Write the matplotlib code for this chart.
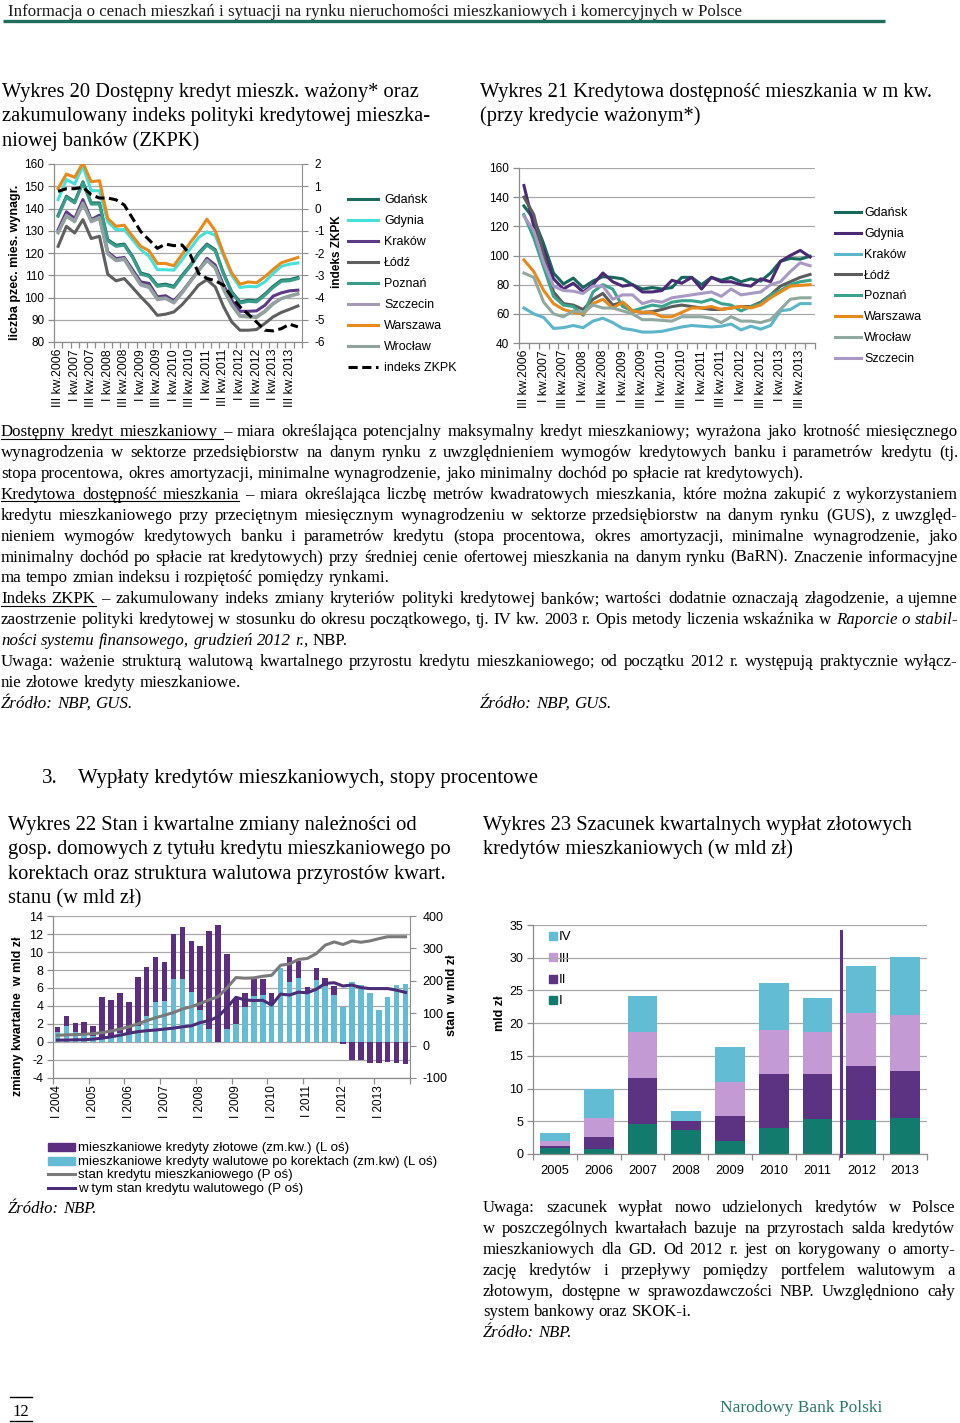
import numpy as np
import matplotlib
matplotlib.use('Agg')
import matplotlib.pyplot as plt
from matplotlib.patches import Rectangle

W, H = 960, 1423
SANS = ['Liberation Sans', 'DejaVu Sans']
SERIF = ['Liberation Serif', 'DejaVu Serif']
plt.rcParams['font.family'] = SANS
plt.rcParams['axes.unicode_minus'] = False

# ---------------- Chart 20 data ----------------
q20_ticks = ['III kw.2006', 'I kw.2007', 'III kw.2007', 'I kw.2008', 'III kw.2008',
             'I kw.2009', 'III kw.2009', 'I kw.2010', 'III kw.2010', 'I kw.2011',
             'III kw.2011', 'I kw.2012', 'III kw.2012', 'I kw.2013', 'III kw.2013']
c20_cities = ['Gdańsk', 'Gdynia', 'Kraków', 'Łódź', 'Poznań', 'Szczecin', 'Warszawa', 'Wrocław']
gdansk20 = [137, 145.5, 143, 152, 142.5, 142.5, 126, 123.5, 124, 118.5, 111, 110, 105.5, 106, 105,
            110, 114.5, 120, 124, 121.5, 111, 102.5, 98, 98.8, 98.5, 101.5, 105, 107.8, 108, 109]
gdynia20 = [144, 153, 151, 159, 148, 148, 134, 130.5, 130.5, 126, 121.5, 118.5, 112.5, 112.5, 112.3,
            117, 122, 127, 129.5, 128, 119, 110, 104.5, 105, 104.8, 107, 110.8, 114, 115, 115.5]
krakow20 = [130.5, 138.5, 135.5, 144, 135, 137, 120.5, 117.5, 118, 112.5, 107, 106.3, 100.3, 100.8, 98.5,
            102.6, 107.4, 112.3, 117.6, 114.6, 105.6, 98.8, 93.8, 93.8, 94, 96.5, 100.6, 102.1, 103, 103.3]
lodz20 = [123, 132, 129, 135, 126.5, 127.5, 110.5, 107.5, 108.5, 104.5, 100.3, 96.5, 92, 92.5, 93.5,
          96.8, 101, 105.6, 108, 104.8, 96, 89, 85.3, 85.3, 85.6, 88.3, 91.3, 93.3, 94.7, 96.2]
poznan20 = [136.5, 145, 142.5, 151.5, 142, 142, 125.5, 123, 123.5, 118, 110.5, 109.5, 105, 105.5, 104.5,
            109.5, 114, 119.5, 123.5, 121, 110.5, 102, 97.5, 98.3, 98, 101, 104.5, 107.3, 107.5, 108.5]
szczecin20 = [129.5, 137, 134.5, 142.5, 134, 135.5, 119.5, 116.5, 117, 111, 105.5, 104.5, 99, 99.5, 97.5,
              102, 107, 112, 116.5, 113.5, 104, 97, 92, 91.8, 91.5, 94, 97.5, 99.5, 100.5, 101.5]
warszawa20 = [149, 155.5, 154, 160.5, 152, 152.5, 135.5, 132, 132.5, 127.5, 123, 121, 115.3, 115.3, 114.3,
              119.4, 124.8, 129.6, 135.2, 130, 119.8, 111, 106, 107, 106.6, 109.3, 112.6, 115.6, 116.8, 118]
wroclaw20 = [129, 136.5, 134, 142, 134.5, 136, 119.8, 116.8, 117.5, 111.5, 106, 105, 99.5, 99.8, 97.8,
             102.3, 107.3, 112.3, 116.8, 113.2, 103.5, 96.5, 91.5, 91.2, 91, 93.5, 97, 99.5, 100.8, 101.8]
zkpk20 = [0.77, 0.89, 0.89, 0.96, 0.62, 0.47, 0.47, 0.39, 0.16, -0.44, -1.04, -1.41, -1.79, -1.6, -1.67,
          -1.64, -2.09, -2.92, -3.14, -3.25, -3.44, -3.97, -4.42, -4.75, -5.1, -5.47, -5.5, -5.4, -5.2, -5.32]

# ---------------- Chart 21 data ----------------
c21_cities = ['Gdańsk', 'Gdynia', 'Kraków', 'Łódź', 'Poznań', 'Warszawa', 'Wrocław', 'Szczecin']
gdansk21 = [134, 125, 108, 88, 80.5, 84.5, 78, 82.5, 85.5, 85, 84, 80, 77, 78, 77,
            78, 85, 85, 80, 85, 83, 85, 82, 84, 82.5, 88, 96, 98, 97.5, 99.5]
gdynia21 = [148, 120, 104, 84, 77, 81, 75, 80, 88, 82, 79, 80, 75, 75, 76,
            83, 81, 85, 77, 85, 82, 82, 80, 79, 84, 82, 96, 100, 103.5, 99]
krakow21 = [64, 60, 57.5, 50, 50.5, 52, 50.5, 55, 57, 54, 50, 49, 47.5, 47.5, 48,
            49.5, 51, 52, 51.5, 51, 51.5, 53, 49, 51.5, 49.5, 52, 62, 63, 67, 67]
lodz21 = [140, 128, 100, 75, 67, 66, 63, 70, 74, 66, 68, 62, 61, 61.5, 63,
          65, 66, 65, 64, 63, 63, 64, 65, 65, 68, 73, 79, 82, 85, 87]
poznan21 = [128, 112, 92, 72, 66, 65, 59, 75, 80, 77, 65, 62, 64, 66, 65,
            68, 69, 69, 68, 70, 67, 66, 62, 65, 67, 73, 76, 80, 82, 83]
warszawa21 = [97, 89, 76, 67, 63, 61, 60, 67, 70, 64, 68, 62, 61, 61, 58,
              58, 61, 64, 64, 65, 63, 64, 65, 64, 66, 71, 75, 79, 79.5, 80]
wroclaw21 = [88, 85, 68, 60, 58, 62, 61, 66, 64, 64, 62, 60, 56, 56, 55.5,
             55, 58, 58, 58, 57, 54, 58, 55, 55, 54, 56, 63, 70, 71, 71]
szczecin21 = [127, 117, 95, 79, 76, 75.5, 74, 79, 79, 70, 73, 73, 67, 69, 68,
              71, 72, 73, 74, 75, 72, 77, 73, 74, 75, 80, 82, 89, 95, 93]

# ---------------- Chart 22 data ----------------
q22_ticks = ['I 2004', 'I 2005', 'I 2006', 'I 2007', 'I 2008', 'I 2009', 'I 2010', 'I 2011', 'I 2012', 'I 2013']
zl22 = [0.55, 1.1, 1.0, 1.2, 1.1, 4.5, 4.1, 4.5, 3.55, 5.4, 5.4, 4.95, 4.3, 5.0, 5.75, 5.7, 7.1, 10.9, 12.95, 8.3,
        2.8, 1.65, 1.85, 1.75, 1.35, 0.0, 2.7, 1.9, 0.7, 1.3, 0.9, 1.05, -0.2, -2.0, -2.0, -2.3, -2.3, -2.2, -2.35, -2.45]
wal22 = [1.1, 1.75, 1.1, 1.05, 0.7, 0.55, 0.6, 1.0, 0.9, 1.8, 2.9, 4.5, 4.6, 7.0, 7.0, 5.55, 3.6, 1.45, 0.0, 1.45,
         2.0, 3.85, 5.15, 5.25, 4.15, 8.2, 6.7, 7.1, 5.4, 6.9, 6.2, 5.2, 3.9, 6.65, 6.35, 5.5, 3.6, 5.05, 6.3, 6.45]
stan22 = [32, 33, 34, 35, 37, 40, 45, 51, 58, 67, 77, 86, 94, 102, 113, 120, 130, 141, 151, 178,
          210, 208, 209, 214, 217, 248, 252, 266, 269, 284, 310, 320, 312, 323, 319, 323, 330, 336, 336, 336]
stanwal22 = [17, 17, 18, 18, 20, 23, 27, 32, 38, 43, 46, 48, 51, 54, 58, 61, 71, 77, 89, 118,
             149, 141, 139, 140, 125, 159, 156, 165, 163, 174, 192, 194, 184, 187, 179, 176, 176, 176, 171, 164]
leg22 = ['mieszkaniowe kredyty złotowe (zm.kw.) (L oś)',
         'mieszkaniowe kredyty walutowe po korektach (zm.kw) (L oś)',
         'stan kredytu mieszkaniowego (P oś)',
         'w tym stan kredytu walutowego (P oś)']

# ---------------- Chart 23 data ----------------
years23 = ['2005', '2006', '2007', '2008', '2009', '2010', '2011', '2012', '2013']
q1_23 = [0.9, 0.75, 4.6, 3.6, 2.05, 4.0, 5.35, 5.25, 5.55]
q2_23 = [0.35, 1.85, 7.0, 1.45, 3.8, 8.2, 6.85, 8.25, 7.1]
q3_23 = [0.75, 2.85, 7.0, 0.0, 5.15, 6.7, 6.4, 8.0, 8.6]
q4_23 = [1.2, 4.5, 5.6, 1.45, 5.3, 7.25, 5.3, 7.3, 8.8]
quarters23 = ['I', 'II', 'III', 'IV']

# ---------------- colours ----------------
col20 = {'Gdańsk': '#1b6c5f', 'Gdynia': '#45e0d8', 'Kraków': '#5c3a86', 'Łódź': '#5f5f5f',
         'Poznań': '#3a9d8c', 'Szczecin': '#a49ab8', 'Warszawa': '#e8891c', 'Wrocław': '#90a29c'}
col21 = {'Gdańsk': '#17695d', 'Gdynia': '#4b2a73', 'Kraków': '#5cb5c9', 'Łódź': '#5c5c5c',
         'Poznań': '#3aa38e', 'Warszawa': '#e8891c', 'Wrocław': '#8fa8a0', 'Szczecin': '#a898c4'}
PURPLE = '#5c2e80'
CYAN = '#63bcd3'
col23 = ['#127b6d', '#5c3282', '#c39ad4', '#62bcd3']
GRID = '#a8a8a8'
SPINE = '#8c8c8c'

fig = plt.figure(figsize=(W / 100, H / 100), dpi=100)
ov = fig.add_axes([0, 0, 1, 1], zorder=0)
ov.set_xlim(0, W)
ov.set_ylim(H, 0)
ov.axis('off')
renderer = fig.canvas.get_renderer()


def add_ax(x0, y0, x1, y1):
    return fig.add_axes([x0 / W, 1 - y1 / H, (x1 - x0) / W, (y1 - y0) / H], zorder=2)


def base_style(ax, fs):
    ax.set_facecolor('none')
    for s in ['top', 'right']:
        ax.spines[s].set_visible(False)
    for s in ['left', 'bottom']:
        ax.spines[s].set_color(SPINE)
        ax.spines[s].set_linewidth(0.9)
    ax.yaxis.grid(True, color=GRID, lw=0.9)
    ax.set_axisbelow(True)
    ax.tick_params(axis='both', which='both', colors=SPINE, labelcolor='black',
                   labelsize=fs, direction='out', width=0.9)


def stext(x, yc, s, size, family=SANS, **kw):
    em = size / 0.72
    ov.text(x, yc + 0.33 * em, s, fontsize=size, family=family, va='baseline', **kw)


def meas(s, kw):
    t = ov.text(0, 0, s, **kw)
    w = t.get_window_extent(renderer).width
    t.remove()
    return w


def para_line(segs, y, x0, x1, size, justify):
    toks = []
    for s, st in segs:
        for w in s.split():
            toks.append([w, st, False])
        if st == 'u' and s.endswith(' ') and toks:
            toks[-1][2] = True
    kws, widths = [], []
    for w, st, _ in toks:
        kw = dict(family=SERIF, fontsize=size)
        if st == 'i':
            kw['style'] = 'italic'
        kws.append(kw)
        widths.append(meas(w, kw))
    base = dict(family=SERIF, fontsize=size)
    sp = meas('a a', base) - meas('aa', base)
    if justify and len(toks) > 1:
        gap = max((x1 - x0 - sum(widths)) / (len(toks) - 1), 0.5 * sp)
    else:
        gap = sp
    x = x0
    ul_start = None
    for i, ((w, st, trail), kw, wd) in enumerate(zip(toks, kws, widths)):
        ov.text(x, y, w, va='baseline', ha='left', **kw)
        if st == 'u':
            if ul_start is None:
                ul_start = x
            ul_end = x + wd + (gap if trail else 0)
            if not (i + 1 < len(toks) and toks[i + 1][1] == 'u'):
                ov.plot([ul_start, ul_end], [y + 2.2, y + 2.2], color='k', lw=0.8)
                ul_start = None
        x += wd + gap


# ---------------- header / footer ----------------
stext(8, 10, 'Informacja o cenach mieszkań i sytuacji na rynku nieruchomości mieszkaniowych i komercyjnych w Polsce',
      12.2, family=SERIF, color='#1a1a1a')
ov.plot([3, 885], [21, 21], color='#1e6e5e', lw=2.4, solid_capstyle='butt')
ov.plot([10, 32], [1397, 1397], color='k', lw=1)
ov.plot([10, 32], [1421, 1421], color='k', lw=1)
stext(12, 1410, '12', 12, family=SERIF)
stext(882, 1406, 'Narodowy Bank Polski', 12.5, family=SERIF, color='#2a7a6a', ha='right')

# ---------------- titles ----------------
TS = 14.8
for i, s in enumerate(['Wykres 20 Dostępny kredyt mieszk. ważony* oraz',
                       'zakumulowany indeks polityki kredytowej mieszka-',
                       'niowej banków (ZKPK)']):
    stext(2, 90 + 24.5 * i, s, TS, family=SERIF)
for i, s in enumerate(['Wykres 21 Kredytowa dostępność mieszkania w m kw.',
                       '(przy kredycie ważonym*)']):
    stext(480, 90 + 24.5 * i, s, TS, family=SERIF)
stext(42, 776, '3.', 15, family=SERIF)
stext(78, 776, 'Wypłaty kredytów mieszkaniowych, stopy procentowe', 15, family=SERIF)
for i, s in enumerate(['Wykres 22 Stan i kwartalne zmiany należności od',
                       'gosp. domowych z tytułu kredytu mieszkaniowego po',
                       'korektach oraz struktura walutowa przyrostów kwart.',
                       'stanu (w mld zł)']):
    stext(8, 823 + 24.6 * i, s, 14.8, family=SERIF)
for i, s in enumerate(['Wykres 23 Szacunek kwartalnych wypłat złotowych',
                       'kredytów mieszkaniowych (w mld zł)']):
    stext(483, 823 + 24.6 * i, s, 14.8, family=SERIF)

# ---------------- paragraph block ----------------
PS = 12.2
para = [
    ([('Dostępny kredyt mieszkaniowy ', 'u'), ('– miara określająca potencjalny maksymalny kredyt mieszkaniowy; wyrażona jako krotność miesięcznego', 'n')], True),
    ([('wynagrodzenia w sektorze przedsiębiorstw na danym rynku z uwzględnieniem wymogów kredytowych banku i parametrów kredytu (tj.', 'n')], True),
    ([('stopa procentowa, okres amortyzacji, minimalne wynagrodzenie, jako minimalny dochód po spłacie rat kredytowych).', 'n')], False),
    ([('Kredytowa dostępność mieszkania', 'u'), ('– miara określająca liczbę metrów kwadratowych mieszkania, które można zakupić z wykorzystaniem', 'n')], True),
    ([('kredytu mieszkaniowego przy przeciętnym miesięcznym wynagrodzeniu w sektorze przedsiębiorstw na danym rynku (GUS), z uwzględ-', 'n')], True),
    ([('nieniem wymogów kredytowych banku i parametrów kredytu (stopa procentowa, okres amortyzacji, minimalne wynagrodzenie, jako', 'n')], True),
    ([('minimalny dochód po spłacie rat kredytowych) przy średniej cenie ofertowej mieszkania na danym rynku (BaRN). Znaczenie informacyjne', 'n')], True),
    ([('ma tempo zmian indeksu i rozpiętość pomiędzy rynkami.', 'n')], False),
    ([('Indeks ZKPK', 'u'), ('– zakumulowany indeks zmiany kryteriów polityki kredytowej banków; wartości dodatnie oznaczają złagodzenie, a ujemne', 'n')], True),
    ([('zaostrzenie polityki kredytowej w stosunku do okresu początkowego, tj. IV kw. 2003 r. Opis metody liczenia wskaźnika w', 'n'), ('Raporcie o stabil-', 'i')], True),
    ([('ności systemu finansowego, grudzień 2012 r.,', 'i'), ('NBP.', 'n')], False),
    ([('Uwaga: ważenie strukturą walutową kwartalnego przyrostu kredytu mieszkaniowego; od początku 2012 r. występują praktycznie wyłącz-', 'n')], True),
    ([('nie złotowe kredyty mieszkaniowe.', 'n')], False),
    ([('Źródło: NBP, GUS.', 'i')], False),
]
for i, (segs, just) in enumerate(para):
    para_line(segs, 436.5 + 20.85 * i, 1, 958, PS, just)
para_line([('Źródło: NBP, GUS.', 'i')], 436.5 + 20.85 * 13, 480, 958, PS, False)

note23 = [
    ('Uwaga: szacunek wypłat nowo udzielonych kredytów w Polsce', True),
    ('w poszczególnych kwartałach bazuje na przyrostach salda kredytów', True),
    ('mieszkaniowych dla GD. Od 2012 r. jest on korygowany o amorty-', True),
    ('zację kredytów i przepływy pomiędzy portfelem walutowym a', True),
    ('złotowym, dostępne w sprawozdawczości NBP. Uwzględniono cały', True),
    ('system bankowy oraz SKOK-i.', False),
]
for i, (s, just) in enumerate(note23):
    para_line([(s, 'n')], 1212 + 20.9 * i, 483, 955, 12, just)
para_line([('Źródło: NBP.', 'i')], 1212 + 20.9 * 6, 483, 955, 12, False)
para_line([('Źródło: NBP.', 'i')], 1213, 8, 400, 12, False)

# ---------------- Chart 20 ----------------
ax20 = add_ax(54, 164, 302, 342)
base_style(ax20, 8.5)
series20 = [gdansk20, gdynia20, krakow20, lodz20, poznan20, szczecin20, warszawa20, wroclaw20]
x30 = np.arange(len(gdansk20))
for name, vals in zip(c20_cities, series20):
    ax20.plot(x30, vals, color=col20[name], lw=2.2, solid_joinstyle='round')
ax20.set_xlim(-0.5, len(x30) - 0.5)
ax20.set_ylim(80, 160)
ax20.set_yticks(range(80, 161, 10))
ax20.set_xticks(x30[::2])
ax20.set_xticklabels(q20_ticks, rotation=90, fontsize=8.7)
ax20.set_xticks(np.arange(-0.5, len(x30), 1), minor=True)
ax20.tick_params(axis='x', which='major', length=0, pad=5)
ax20.tick_params(axis='x', which='minor', length=4)
ax20.tick_params(axis='y', length=4, pad=3)
tw20 = ax20.twinx()
tw20.plot(x30, zkpk20, color='black', lw=2.2, dashes=(3, 1.5))
tw20.set_ylim(-6, 2)
tw20.set_yticks(range(-6, 3))
for s in ['top', 'left', 'bottom']:
    tw20.spines[s].set_visible(False)
tw20.spines['right'].set_color(SPINE)
tw20.tick_params(axis='y', colors=SPINE, labelcolor='black', labelsize=8.5, length=4, pad=5)
ov.text(15, 262, 'liczba pzec. mies. wynagr.', rotation=90, fontsize=9, fontweight='bold',
        ha='center', va='center')
ov.text(337, 252, 'indeks ZKPK', rotation=90, fontsize=8.5, fontweight='bold', ha='center', va='center')
for i, name in enumerate(c20_cities):
    y = 199 + 21 * i
    ov.plot([348, 378], [y, y], color=col20[name], lw=2.2)
    stext(384, y, name, 9)
y = 199 + 21 * 8
ov.plot([348, 378], [y, y], color='black', lw=2.2, dashes=(3, 1.5))
stext(384, y, 'indeks ZKPK', 9)

# ---------------- Chart 21 ----------------
ax21 = add_ax(519, 168, 815, 343)
base_style(ax21, 8.5)
series21 = [gdansk21, gdynia21, krakow21, lodz21, poznan21, warszawa21, wroclaw21, szczecin21]
for name, vals in zip(c21_cities, series21):
    ax21.plot(x30, vals, color=col21[name], lw=2.2, solid_joinstyle='round')
ax21.set_xlim(-0.5, len(x30) - 0.5)
ax21.set_ylim(40, 160)
ax21.set_yticks(range(40, 161, 20))
ax21.set_xticks(x30[::2])
ax21.set_xticklabels(q20_ticks, rotation=90, fontsize=8.7)
ax21.set_xticks(np.arange(-0.5, len(x30), 1), minor=True)
ax21.tick_params(axis='x', which='major', length=0, pad=5)
ax21.tick_params(axis='x', which='minor', length=4)
ax21.tick_params(axis='y', length=4, pad=3)
for i, name in enumerate(c21_cities):
    y = 212 + 20.8 * i
    ov.plot([835, 861], [y, y], color=col21[name], lw=2.2)
    stext(864, y, name, 9)

# ---------------- Chart 22 ----------------
ax22 = add_ax(53, 916, 410, 1078)
base_style(ax22, 9)
x40 = np.arange(len(zl22))
zl = np.array(zl22)
wal = np.array(wal22)
ax22.bar(x40, wal, width=0.62, color=CYAN, zorder=2)
ax22.bar(x40, zl, bottom=np.where(zl >= 0, wal, 0), width=0.62, color=PURPLE, zorder=2)
ax22.set_xlim(-0.5, len(x40) - 0.5)
ax22.set_ylim(-4, 14)
ax22.set_yticks(range(-4, 15, 2))
ax22.set_xticks(x40[::4])
ax22.set_xticklabels(q22_ticks, rotation=90, fontsize=8.5)
ax22.set_xticks(np.arange(-0.5, len(x40), 4), minor=True)
ax22.tick_params(axis='x', which='major', length=0, pad=5)
ax22.tick_params(axis='x', which='minor', length=4)
ax22.tick_params(axis='y', length=4, pad=3)
tw22 = ax22.twinx()
tw22.plot(x40, stan22, color='#7a7a7a', lw=2.2)
tw22.plot(x40, stanwal22, color='#4a2c78', lw=2.2)
tw22.set_ylim(-100, 400)
tw22.set_yticks(range(-100, 401, 100))
for s in ['top', 'left', 'bottom']:
    tw22.spines[s].set_visible(False)
tw22.spines['right'].set_color(SPINE)
tw22.tick_params(axis='y', colors=SPINE, labelcolor='black', labelsize=9, length=4, pad=5)
ov.text(18, 1016, 'zmiany kwartalne  w mld zł', rotation=90, fontsize=9, fontweight='bold',
        ha='center', va='center')
ov.text(452, 995, 'stan  w mld zł', rotation=90, fontsize=9, fontweight='bold', ha='center', va='center')
ly = [1147, 1161, 1174, 1188]
ov.add_patch(Rectangle((48, ly[0] - 4), 27, 8, color=PURPLE))
ov.add_patch(Rectangle((48, ly[1] - 4), 27, 8, color=CYAN))
ov.plot([48, 75], [ly[2], ly[2]], color='#7a7a7a', lw=2.2)
ov.plot([48, 75], [ly[3], ly[3]], color='#4a2c78', lw=2.2)
for yy, s in zip(ly, leg22):
    stext(78, yy, s, 9.6)

# ---------------- Chart 23 ----------------
ax23 = add_ax(533, 925, 927, 1154)
base_style(ax23, 9)
x9 = np.arange(len(years23))
bottom = np.zeros(len(years23))
for vals, c in zip([q1_23, q2_23, q3_23, q4_23], col23):
    ax23.bar(x9, vals, bottom=bottom, width=0.68, color=c, zorder=2)
    bottom = bottom + np.array(vals)
ax23.plot([6.53, 6.53], [-0.35, 34.1], color='#5c3282', lw=2.2, clip_on=False, zorder=3)
ax23.set_xlim(-0.5, len(x9) - 0.5)
ax23.set_ylim(0, 35)
ax23.set_yticks(range(0, 36, 5))
ax23.set_xticks(x9)
ax23.set_xticklabels(years23, fontsize=9.3)
ax23.set_xticks(np.arange(-0.5, len(x9), 1), minor=True)
ax23.tick_params(axis='x', which='major', length=0, pad=8)
ax23.tick_params(axis='x', which='minor', length=4)
ax23.tick_params(axis='y', length=4, pad=3)
ov.text(500, 1013, 'mld zł', rotation=90, fontsize=9, fontweight='bold', ha='center', va='center')
for i, (q, c) in enumerate(zip(quarters23[::-1], col23[::-1])):
    yy = 936 + 21.3 * i
    ov.add_patch(Rectangle((549, yy - 4), 8, 8, color=c))
    stext(559, yy, q, 9.5)

fig.savefig('out.png', dpi=100)
